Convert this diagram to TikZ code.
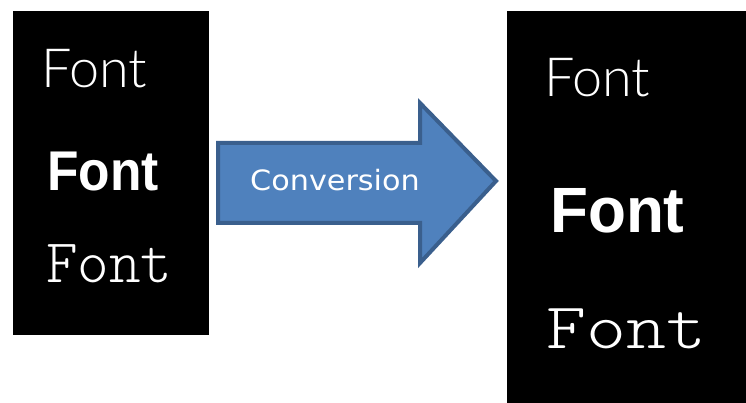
\documentclass[tikz,border=0pt]{standalone}
\usepackage{fontspec}
\setmainfont{Liberation Sans}
\newfontfamily\thinfont{Lato Light}
\newfontfamily\boldfont{Liberation Sans}
\newfontfamily\monofont{Latin Modern Mono Light}
\newfontfamily\convfont{DejaVu Sans}
\definecolor{arrowfill}{HTML}{4F81BD}
\definecolor{arrowline}{HTML}{3A5F8D}
\begin{document}
\begin{tikzpicture}[x=1pt,y=-1pt,
  panel/.style={fill=black,draw=none},
  word/.style={text=white,inner sep=0pt,anchor=base west},
  thinword/.style={word,font=\thinfont\fontsize{54}{54}\selectfont},
  boldword/.style={word,font=\boldfont\bfseries\fontsize{#1}{#1}\selectfont},
  monoword/.style={word,font=\monofont\fontsize{#1}{#1}\selectfont},
  bigarrow/.style={fill=arrowfill,draw=arrowline,line width=4pt,line join=miter}]
\useasboundingbox[fill=white] (0,0) rectangle (746,403);
% panels
\path[panel] (13,11) rectangle (209,335);
\path[panel] (507,11) rectangle (746,403);
% left words
\node[thinword] (l1) at (41,88) {Font};
\node[boldword=56,xscale=0.92] (l2) at (47,191) {Font};
\node[monoword=62,xscale=0.97] (l3) at (46,282) {Font};
% right words
\node[thinword] (r1) at (544,97) {Font};
\node[boldword=64,xscale=0.97] (r2) at (550,233) {Font};
\node[monoword=65,xscale=1.17] (r3) at (546,348) {Font};
% arrow
\path[bigarrow] (218,143) -- (420,143) -- (420,103) -- (496,181) -- (420,263) -- (420,223) -- (218,223) -- cycle;
\node[text=white,inner sep=0pt,anchor=base west,font=\convfont\fontsize{28}{28}\selectfont,xscale=1.08] (conv) at (250,191) {Conversion};
\end{tikzpicture}
\end{document}
